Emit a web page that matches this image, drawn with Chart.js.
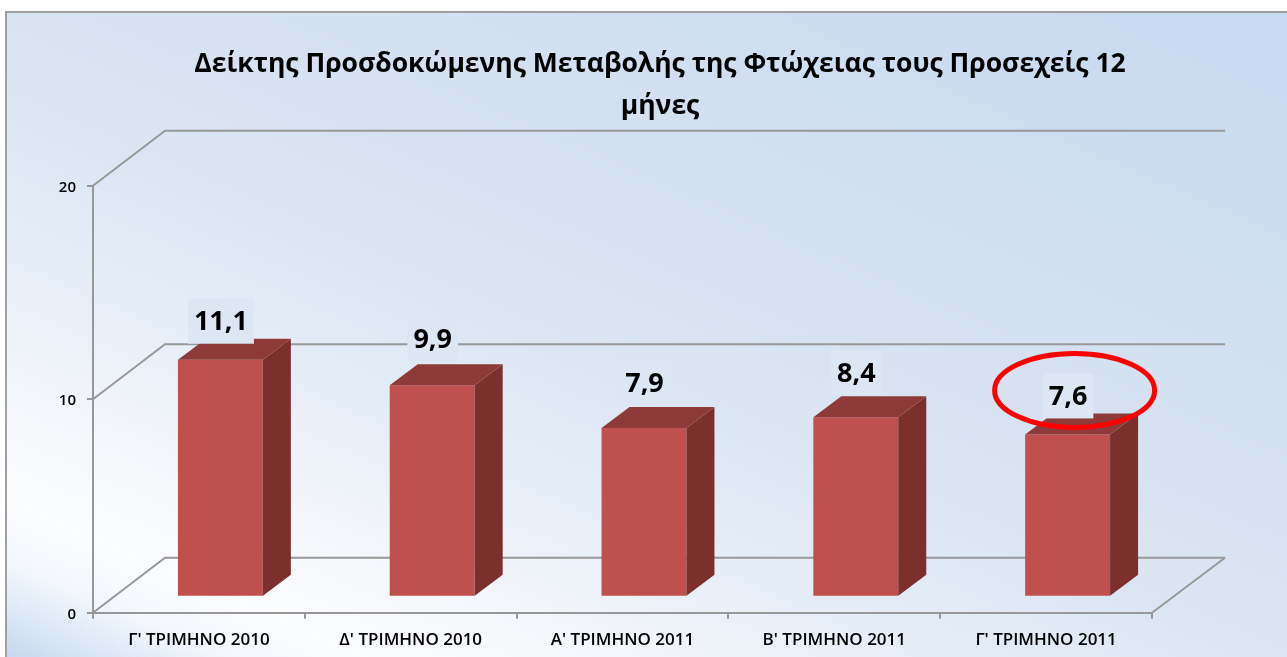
<!DOCTYPE html>
<html>
<head>
<meta charset="utf-8">
<title>Δείκτης Φτώχειας</title>
<script src="https://cdn.jsdelivr.net/npm/chart.js@4"></script>
<style>
  html, body { margin: 0; padding: 0; background: #fff; overflow: hidden; }
  #wrap { width: 1287px; height: 657px; position: relative; }
</style>
</head>
<body>
<div id="wrap"><canvas id="povertyChart" width="1287" height="657"></canvas></div>
<script>
const categories = ["Γ' ΤΡΙΜΗΝΟ 2010", "Δ' ΤΡΙΜΗΝΟ 2010", "Α' ΤΡΙΜΗΝΟ 2011", "Β' ΤΡΙΜΗΝΟ 2011", "Γ' ΤΡΙΜΗΝΟ 2011"];
const values = [11.1, 9.9, 7.9, 8.4, 7.6];
const valueLabels = ["11,1", "9,9", "7,9", "8,4", "7,6"];
const yTicks = [0, 10, 20];
const titleLines = ["Δείκτης Προσδοκώμενης Μεταβολής της Φτώχειας τους Προσεχείς 12", "μήνες"];

// how far each label sits above its bar (pixels), they are not even in the original
const labelLift = [37, 45, 44, 43, 37];

const font = "'Open Sans', 'Noto Sans', sans-serif";
const gridColor = "#989898";
const titleCenter = 660;

// fake 3D: back wall offset, bar depth, bar offset from the axis
const wallDx = 72, wallDy = 55;
const depthDx = 28, depthDy = 21;
const barDx = 21.5, barDy = 16;

const backdrop = {
  id: "backdrop",
  beforeDraw(chart) {
    const { ctx, width, height } = chart;
    const g = ctx.createLinearGradient(0, height, 447, height - 1024);
    g.addColorStop(0, "#c4d8f0");
    g.addColorStop(0.08, "#f3f7fc");
    g.addColorStop(0.13, "#fbfcfe");
    g.addColorStop(0.22, "#f4f7fb");
    g.addColorStop(0.35, "#e4ecf6");
    g.addColorStop(0.46, "#dce6f3");
    g.addColorStop(0.55, "#d8e3f1");
    g.addColorStop(1, "#c6d9f0");
    ctx.save();
    ctx.fillStyle = "#fff";
    ctx.fillRect(0, 0, width, height);
    ctx.fillStyle = g;
    ctx.fillRect(6, 12, width - 6, height - 12);
    // slide frame, top and left only
    ctx.fillStyle = "#a0a0a0";
    ctx.fillRect(5, 11, width - 5, 2);
    ctx.fillRect(5, 11, 2, height - 11);
    ctx.restore();
  }
};

const walls = {
  id: "walls",
  beforeDatasetsDraw(chart) {
    const { ctx, scales: { x, y } } = chart;
    ctx.save();
    ctx.strokeStyle = gridColor;
    ctx.lineWidth = 2;
    yTicks.forEach(v => {
      const py = y.getPixelForValue(v);
      ctx.beginPath();
      ctx.moveTo(x.left, py);
      ctx.lineTo(x.left + wallDx, py - wallDy);
      ctx.lineTo(x.right + wallDx + 1, py - wallDy);
      ctx.stroke();
    });
    // right edge of the floor
    const py0 = y.getPixelForValue(0);
    ctx.beginPath();
    ctx.moveTo(x.right + wallDx + 1, py0 - wallDy);
    ctx.lineTo(x.right, py0);
    ctx.stroke();
    ctx.restore();

    // front faces are shifted off the axis
    ctx.save();
    ctx.translate(barDx, -barDy);
  },
  afterDatasetsDraw(chart) {
    const { ctx } = chart;
    ctx.restore();
    const bars = chart.getDatasetMeta(0).data;

    bars.forEach(bar => {
      const l = bar.x - bar.width / 2 + barDx;
      const r = bar.x + bar.width / 2 + barDx;
      const t = bar.y - barDy;
      const b = bar.base - barDy;
      ctx.fillStyle = "#7b302e";
      ctx.beginPath();
      ctx.moveTo(r, t);
      ctx.lineTo(r + depthDx, t - depthDy);
      ctx.lineTo(r + depthDx, b - depthDy);
      ctx.lineTo(r, b);
      ctx.closePath();
      ctx.fill();
      ctx.fillStyle = "#8e3a38";
      ctx.beginPath();
      ctx.moveTo(l, t);
      ctx.lineTo(l + depthDx, t - depthDy);
      ctx.lineTo(r + depthDx, t - depthDy);
      ctx.lineTo(r, t);
      ctx.closePath();
      ctx.fill();
    });

    // value labels with their pale box
    ctx.save();
    ctx.font = "700 27px " + font;
    ctx.textAlign = "center";
    ctx.textBaseline = "middle";
    bars.forEach((bar, i) => {
      const cx = bar.x + barDx + 0.5;
      const cy = bar.y - barDy - labelLift[i];
      const w = ctx.measureText(valueLabels[i]).width + 12;
      ctx.fillStyle = "#dde7f3";
      ctx.fillRect(cx - w / 2, cy - 24, w, 45);
      ctx.fillStyle = "#000";
      ctx.fillText(valueLabels[i], cx, cy);
    });
    ctx.restore();

    // red ring round the last value
    const last = bars[bars.length - 1];
    ctx.save();
    ctx.strokeStyle = "#ff0000";
    ctx.lineWidth = 5;
    ctx.beginPath();
    ctx.ellipse(last.x + barDx + 7, last.y - barDy - 44, 80, 37, 0, 0, Math.PI * 2);
    ctx.stroke();
    ctx.restore();
  }
};

const titleShift = {
  id: "titleShift",
  afterLayout(chart) {
    // title is centred a bit right of the canvas in the original
    const t = chart.titleBlock;
    const shift = titleCenter - (t.left + t.right) / 2;
    t.left += shift;
    t.right += shift;
  }
};

new Chart(document.getElementById("povertyChart"), {
  type: "bar",
  data: {
    labels: categories,
    datasets: [{
      data: values,
      backgroundColor: "#c0504d",
      borderWidth: 0,
      categoryPercentage: 1,
      barPercentage: 0.401
    }]
  },
  plugins: [backdrop, walls, titleShift],
  options: {
    responsive: false,
    animation: false,
    devicePixelRatio: 1,
    layout: { padding: { left: 0, right: 135, top: 0, bottom: 0 } },
    plugins: {
      legend: { display: false },
      tooltip: { enabled: false },
      title: {
        display: true,
        text: titleLines,
        color: "#000",
        font: { family: font, size: 26.5, weight: "700", lineHeight: 1.585 },
        padding: { top: 43, bottom: 58.7 }
      }
    },
    scales: {
      x: {
        afterFit(scale) { scale.height = 44.3; },
        grid: { drawOnChartArea: false, color: gridColor, tickLength: 6, lineWidth: 2 },
        border: { color: gridColor, width: 2 },
        ticks: { color: "#000", font: { family: font, size: 17, weight: "600" }, padding: 11, maxRotation: 0 }
      },
      y: {
        min: 0,
        max: 20,
        afterFit(scale) { scale.width = 93; },
        afterBuildTicks(scale) { scale.ticks = yTicks.map(v => ({ value: v })); },
        grid: { drawOnChartArea: false, color: gridColor, tickLength: 6, lineWidth: 2 },
        border: { color: gridColor, width: 2 },
        ticks: { color: "#000", font: { family: font, size: 15, weight: "600" }, padding: 11, labelOffset: 2 }
      }
    }
  }
});
</script>
</body>
</html>
